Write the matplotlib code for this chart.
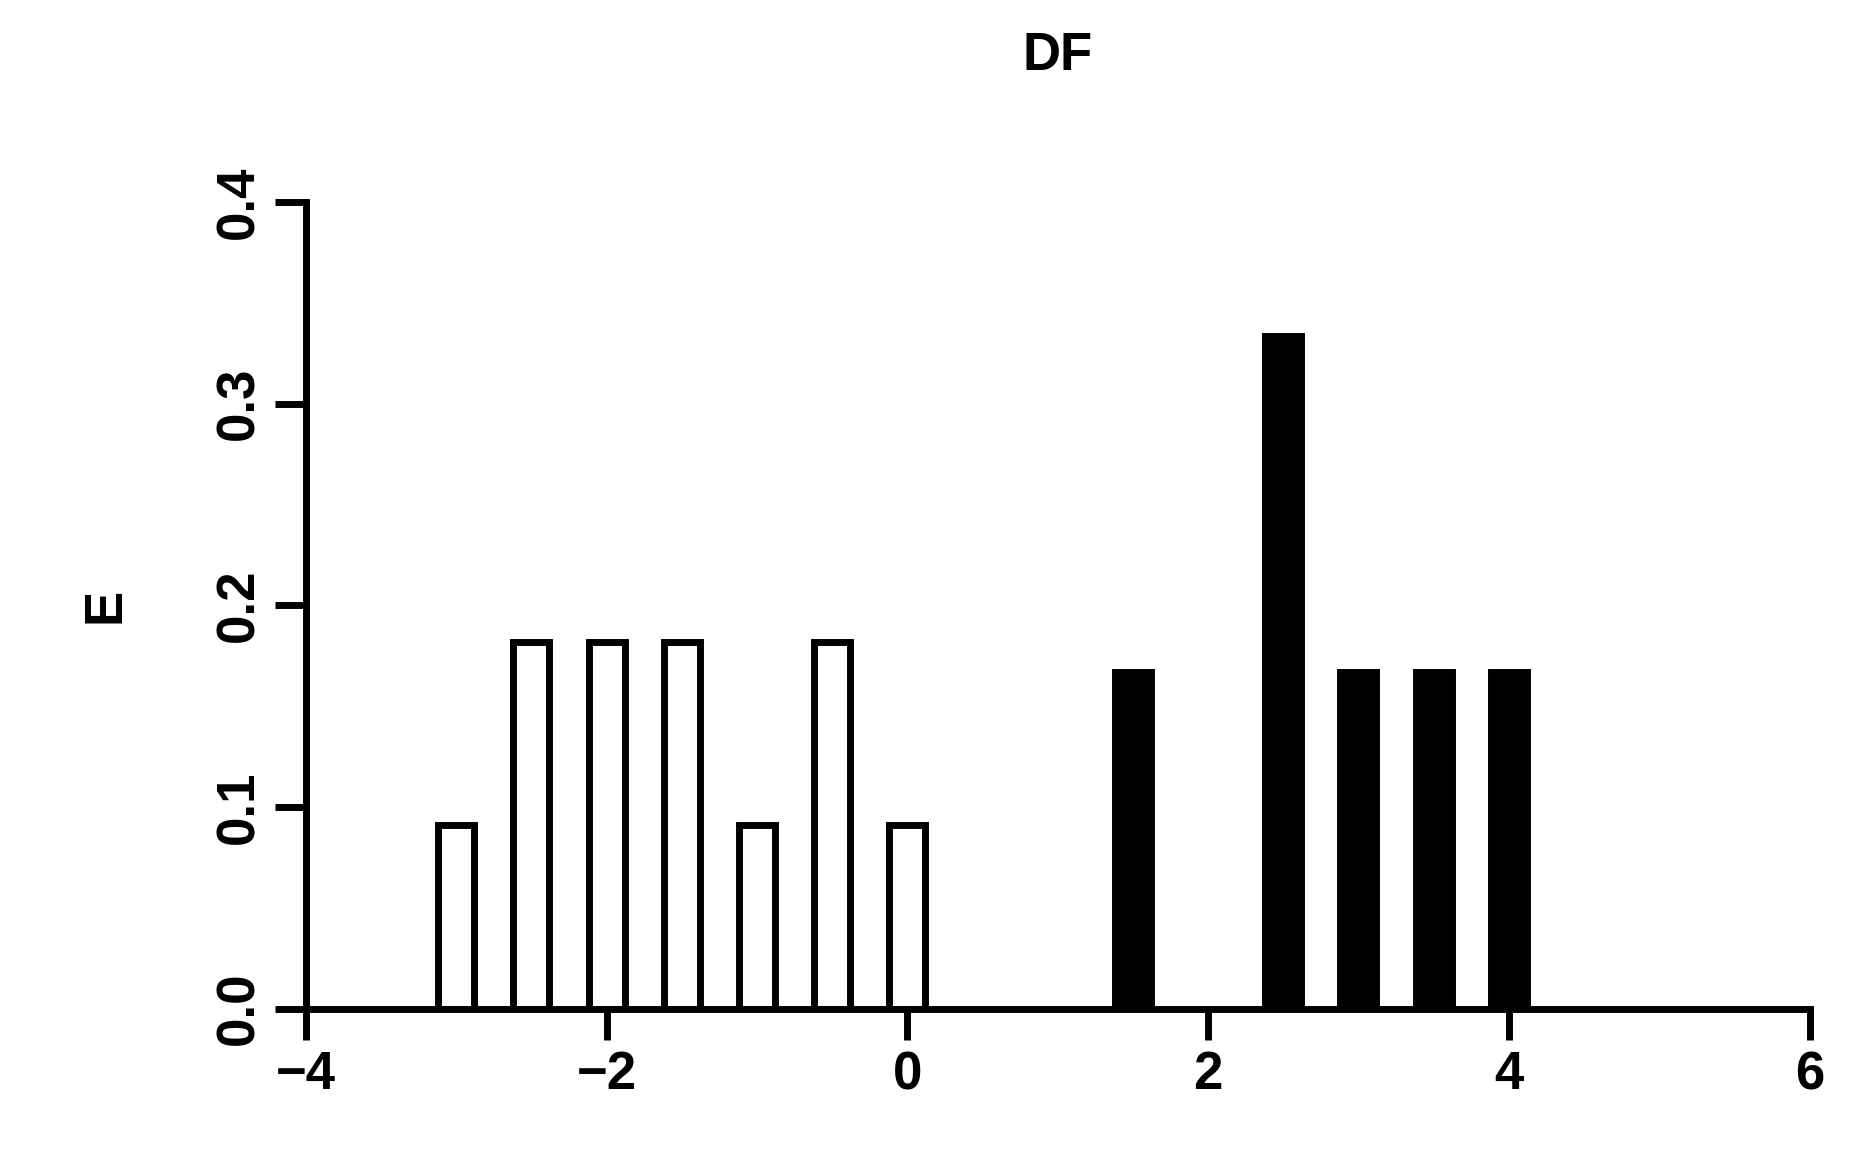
import matplotlib.pyplot as plt

plt.rcParams['font.family'] = ['Liberation Sans', 'DejaVu Sans']
plt.rcParams['font.weight'] = 'bold'

# open bars (left group)
open_x = [-3.0, -2.5, -2.0, -1.5, -1.0, -0.5, 0.0]
open_h = [0.0909, 0.1818, 0.1818, 0.1818, 0.0909, 0.1818, 0.0909]
# filled bars (right group)
fill_x = [1.5, 2.5, 3.0, 3.5, 4.0]
fill_h = [0.1667, 0.3333, 0.1667, 0.1667, 0.1667]

fig = plt.figure(figsize=(18.54, 11.54), dpi=100)
ax = fig.add_axes([0.165, 0.126, 0.811, 0.699])

ax.bar(open_x, open_h, width=0.24, color='white', edgecolor='black', linewidth=5)
ax.bar(fill_x, fill_h, width=0.24, color='black', edgecolor='black', linewidth=5)

ax.set_xlim(-4, 6)
ax.set_ylim(0, 0.4)
ax.set_xticks([-4, -2, 0, 2, 4, 6])
ax.set_xticklabels(['\u22124', '\u22122', '0', '2', '4', '6'])
ax.set_yticks([0, 0.1, 0.2, 0.3, 0.4])
ax.set_yticklabels(['0.0', '0.1', '0.2', '0.3', '0.4'], rotation=90, va='center')

for s in ['top', 'right']:
    ax.spines[s].set_visible(False)
for s in ['left', 'bottom']:
    ax.spines[s].set_linewidth(5)
ax.spines['left'].set_bounds(0, 0.4)
ax.tick_params(width=5, length=22, labelsize=38, pad=8)

ax.set_title('DF', fontsize=38, fontweight='bold', pad=95)
ax.set_ylabel('E', fontsize=38, fontweight='bold', labelpad=60)

fig.savefig('out.png', dpi=100)
